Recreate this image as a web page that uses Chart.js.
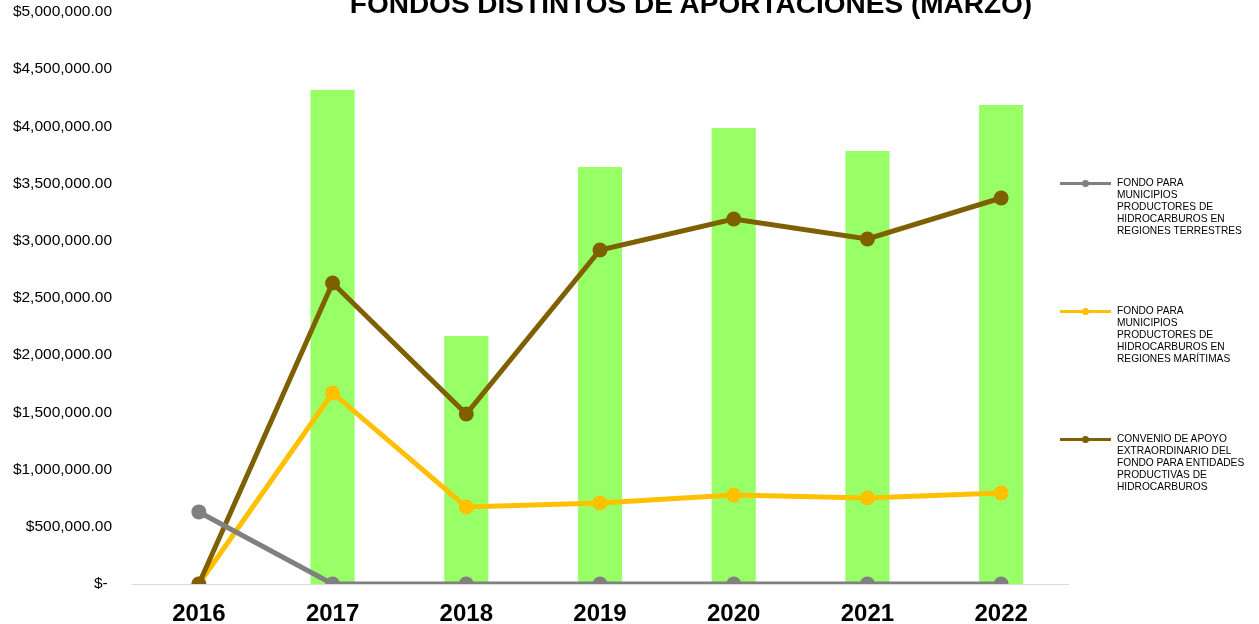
<!DOCTYPE html>
<html>
<head>
<meta charset="utf-8">
<script src="https://cdn.jsdelivr.net/npm/chart.js@4.4.1/dist/chart.umd.min.js"></script>
<style>
  html, body { margin:0; padding:0; background:#fff; }
  #wrap { position:relative; width:1259px; height:624px; overflow:hidden; }
  #title { position:absolute; left:0; width:1382px; top:-12px; text-align:center; font:bold 28px "Liberation Sans", Arial, sans-serif; color:#000; white-space:nowrap; }
  .leg { position:absolute; left:1060px; font:10.2px "Liberation Sans", Arial, sans-serif; color:#000; line-height:12px; }
  .leg .sw { position:absolute; left:0; top:5px; width:51px; height:3px; }
  .leg .dot { position:absolute; left:22px; top:3px; width:7px; height:7px; border-radius:50%; }
  .leg .tx { position:absolute; left:57px; top:0; width:200px; }
</style>
</head>
<body>
<div id="wrap">
  <canvas id="c" width="1259" height="624"></canvas>
  <div id="title">FONDOS DISTINTOS DE APORTACIONES (MARZO)</div>
  <div id="legend"></div>
</div>
<script>
const categories = ['2016','2017','2018','2019','2020','2021','2022'];
const totalValues = [null, 4318000, 2168000, 3645000, 3986000, 3785000, 4187000];
const terrestresValues = [630000, 0, 0, 0, 0, 0, 0];
const maritimasValues = [0, 1670000, 673000, 708000, 778000, 752000, 795000];
const convenioValues = [0, 2631000, 1486000, 2920000, 3190000, 3016000, 3374000];
const yTicks = [0, 500000, 1000000, 1500000, 2000000, 2500000, 3000000, 3500000, 4000000, 4500000, 5000000];

const seriesNames = [
  ['FONDO PARA','MUNICIPIOS','PRODUCTORES DE','HIDROCARBUROS EN','REGIONES TERRESTRES'],
  ['FONDO PARA','MUNICIPIOS','PRODUCTORES DE','HIDROCARBUROS EN','REGIONES MARÍTIMAS'],
  ['CONVENIO DE APOYO','EXTRAORDINARIO DEL','FONDO PARA ENTIDADES','PRODUCTIVAS DE','HIDROCARBUROS']
];
const colors = { total:'#99FF66', terr:'#808080', mar:'#FFC000', conv:'#7F6000' };

function fmt(v){
  if (v === 0) return '$- ';
  return '$' + v.toLocaleString('en-US',{minimumFractionDigits:2, maximumFractionDigits:2});
}

const lineDs = (label, data, color, order) => ({
  type:'line', label, data, borderColor:color, backgroundColor:color,
  borderWidth:5, pointRadius:7.5, pointHoverRadius:7.5, pointBorderWidth:0,
  tension:0, order
});

new Chart(document.getElementById('c'), {
  data: {
    labels: categories,
    datasets: [
      { type:'bar', label:'TOTAL', data: totalValues, backgroundColor: colors.total,
        categoryPercentage:1, barPercentage:0.33, order:10 },
      lineDs(seriesNames[0].join(' '), terrestresValues, colors.terr, 1),
      lineDs(seriesNames[1].join(' '), maritimasValues, colors.mar, 3),
      lineDs(seriesNames[2].join(' '), convenioValues, colors.conv, 2)
    ]
  },
  options: {
    responsive:false, animation:false,
    layout:{ padding:{ top:12, right:191, left:0, bottom:0 } },
    plugins:{ legend:{display:false}, tooltip:{enabled:false}, title:{display:false} },
    scales:{
      x:{
        offset:true,
        grid:{ display:false, drawTicks:false },
        border:{ display:true, color:'#D9D9D9', width:1 },
        ticks:{ color:'#000', padding:16, font:{ family:'"Liberation Sans", Arial, sans-serif', size:24, weight:'bold' } },
        afterFit(s){ s.height = 40; s.paddingLeft = 0; s.paddingRight = 0; }
      },
      y:{
        min:0, max:5000000,
        afterBuildTicks(s){ s.ticks = yTicks.map(v=>({value:v})); },
        grid:{ display:false, drawTicks:false },
        border:{ display:false },
        ticks:{ color:'#000', padding:20, font:{ family:'"Liberation Sans", Arial, sans-serif', size:15.5 }, callback:(v)=>fmt(v) },
        afterFit(s){ s.width = 132; s.paddingTop = 0; s.paddingBottom = 0; }
      }
    }
  }
});

const legendColors = [colors.terr, colors.mar, colors.conv];
const legendTops = [177, 305, 433];
const lg = document.getElementById('legend');
seriesNames.forEach((lines,i)=>{
  const d = document.createElement('div');
  d.className='leg'; d.style.top = legendTops[i]+'px';
  d.innerHTML = '<div class="sw" style="background:'+legendColors[i]+'"></div>'+
    '<div class="dot" style="background:'+legendColors[i]+'"></div>'+
    '<div class="tx">'+lines.join('<br>')+'</div>';
  lg.appendChild(d);
});
</script>
</body>
</html>
